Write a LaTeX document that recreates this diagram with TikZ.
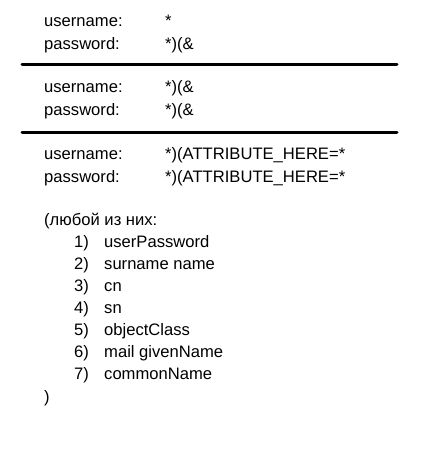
\documentclass[tikz,border=0pt]{standalone}
\usepackage{fontspec}
\setmainfont{Liberation Sans}
\begin{document}
\begin{tikzpicture}[x=1pt,y=-1pt,
  txt/.style={anchor=base west,inner sep=0pt,font=\fontsize{16.6}{19}\selectfont},
  sep/.style={line width=3pt,line cap=round}]
\useasboundingbox (0,0) rectangle (432,461);
% section 1
\node[txt] (u1) at (44,26) {username:};
\node[txt] (u1v) at (165,26) {*};
\node[txt] (p1) at (44,49) {password:};
\node[txt] (p1v) at (165,49) {*)(\&};
\coordinate (l1a) at (22,64.5);
\coordinate (l1b) at (397,64.5);
\draw[sep] (l1a) -- (l1b);
% section 2
\node[txt] (u2) at (44,92) {username:};
\node[txt] (u2v) at (165,92) {*)(\&};
\node[txt] (p2) at (44,115) {password:};
\node[txt] (p2v) at (165,115) {*)(\&};
\coordinate (l2a) at (22,132);
\coordinate (l2b) at (397,132);
\draw[sep] (l2a) -- (l2b);
% section 3
\node[txt] (u3) at (44,159) {username:};
\node[txt] (u3v) at (165,159) {*)(ATTRIBUTE\_HERE=*};
\node[txt] (p3) at (44,182) {password:};
\node[txt] (p3v) at (165,182) {*)(ATTRIBUTE\_HERE=*};
% list
\node[txt] (hd) at (44,225) {(любой из них:};
\foreach \n/\t [count=\i] in {1/userPassword,2/surname name,3/cn,4/sn,5/objectClass,6/mail givenName,7/commonName}{
  \node[txt] (n\i) at (74,225+22*\i) {\n)};
  \node[txt] (t\i) at (104,225+22*\i) {\t};
}
\node[txt] (cl) at (44,402) {)};
\end{tikzpicture}
\end{document}
